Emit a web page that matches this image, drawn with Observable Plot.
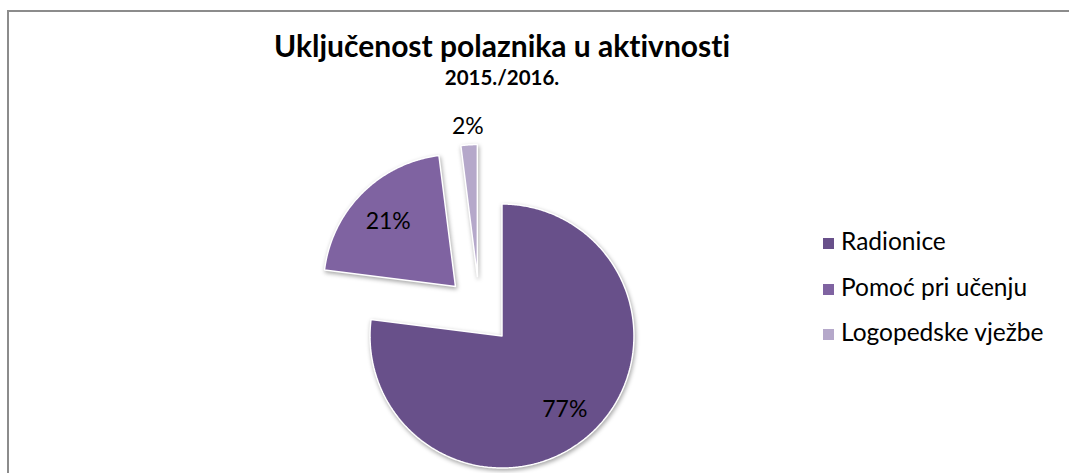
<!DOCTYPE html>
<html>
<head>
<meta charset="utf-8">
<script src="https://cdn.jsdelivr.net/npm/d3@7"></script>
<script src="https://cdn.jsdelivr.net/npm/@observablehq/plot@0.6"></script>
<style>
  html, body { margin: 0; padding: 0; background: #fff; }
  #wrap { position: relative; width: 1069px; height: 473px; overflow: hidden; font-family: Lato, "Open Sans", sans-serif;
          font-variant-ligatures: none; font-feature-settings: "liga" 0, "dlig" 0; }
  #frame { position: absolute; left: 7px; top: 10px; width: 1200px; height: 700px;
           border-left: 2px solid #8c8c8c; border-top: 2px solid #8c8c8c; box-sizing: border-box; }
  #chart { position: absolute; left: 0; top: 0; }
  #title { position: absolute; left: 0; width: 1004px; top: 30px; text-align: center;
           font-weight: 700; font-size: 30px; line-height: 30px; color: #000; white-space: nowrap; }
  #subtitle { position: absolute; left: 0; width: 1004px; top: 67px; text-align: center;
              font-weight: 700; font-size: 20.5px; line-height: 20.5px; color: #000; white-space: nowrap; }
  .leg { position: absolute; left: 823px; font-size: 24.5px; line-height: 24px; color: #000; white-space: nowrap; }
  .leg .sw { display: inline-block; width: 11px; height: 11px; margin-right: 7px; vertical-align: 1px; }
</style>
</head>
<body>
<div id="wrap">
  <div id="frame"></div>
  <div id="chart"></div>
  <div id="title">Uključenost polaznika u aktivnosti</div>
  <div id="subtitle">2015./2016.</div>
  <div id="legend"></div>
</div>
<script>
// ---- data ----
const categories = ["Radionice", "Pomoć pri učenju", "Logopedske vježbe"];
const values = [77, 21, 2];
const percentLabels = ["77%", "21%", "2%"];
const colors = ["#68508a", "#7f63a1", "#b5a8ca"];

// ---- layout ----
const W = 1069, H = 473;
const cx = 479, cy = 310;       // pie centre (px)
const R = 132;                  // radius
const explode = 34;             // explosion offset

const arcs = d3.pie().sort(null).value(d => d)(values);

const polyPts = [];
const labelPts = [];
arcs.forEach((a, i) => {
  const mid = (a.startAngle + a.endAngle) / 2;
  const ox = explode * Math.sin(mid), oy = -explode * Math.cos(mid);
  const cat = categories[i];
  polyPts.push({cat, x: ox, y: oy});
  const n = Math.max(4, Math.ceil((a.endAngle - a.startAngle) / 0.01));
  for (let k = 0; k <= n; k++) {
    const t = a.startAngle + (a.endAngle - a.startAngle) * k / n;
    polyPts.push({cat, x: ox + R * Math.sin(t), y: oy - R * Math.cos(t)});
  }
  polyPts.push({cat, x: ox, y: oy});
  const frac = (a.endAngle - a.startAngle) / (2 * Math.PI);
  const lr = frac < 0.05 ? R * 1.15 : R * 0.72;
  labelPts.push({text: percentLabels[i], x: ox + lr * Math.sin(mid), y: oy - lr * Math.cos(mid) + 2});
});

const chart = Plot.plot({
  width: W,
  height: H,
  margin: 0,
  x: {domain: [-cx, W - cx], range: [0, W], axis: null},
  y: {domain: [-cy, H - cy], range: [0, H], axis: null},
  color: {domain: categories, range: colors},
  style: {background: "transparent", overflow: "visible"},
  marks: [
    Plot.line(polyPts, {x: "x", y: "y", z: "cat", fill: "cat", stroke: "white", strokeWidth: 1.5,
      strokeLinejoin: "miter", curve: "linear"}),
    Plot.text(labelPts, {x: "x", y: "y", text: "text", fontSize: 23, fill: "#000",
      fontFamily: "Lato, sans-serif", textAnchor: "middle", lineAnchor: "middle"})
  ]
});
chart.querySelectorAll("path").forEach(p => p.style.filter = "drop-shadow(1.5px 2px 2px rgba(0,0,0,0.35))");
document.getElementById("chart").appendChild(chart);

// legend
const legTops = [229, 275, 320];
const legend = document.getElementById("legend");
categories.forEach((c, i) => {
  const d = document.createElement("div");
  d.className = "leg";
  d.style.top = legTops[i] + "px";
  const sw = document.createElement("span");
  sw.className = "sw";
  sw.style.background = colors[i];
  d.appendChild(sw);
  d.appendChild(document.createTextNode(c));
  legend.appendChild(d);
});
</script>
</body>
</html>
